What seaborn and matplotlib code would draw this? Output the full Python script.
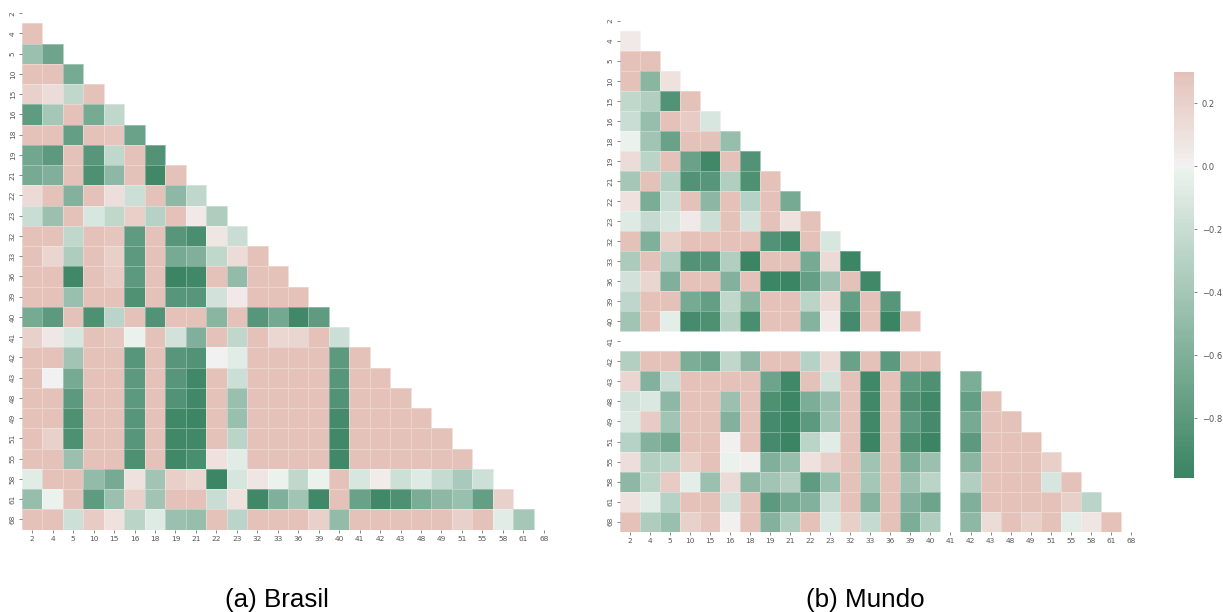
import numpy as np
import matplotlib
matplotlib.use("Agg")
import matplotlib.pyplot as plt
import seaborn as sns

labels = [2, 4, 5, 10, 15, 16, 18, 19, 21, 22, 23, 32, 33, 36, 39, 40, 41, 42, 43, 48, 49, 51, 55, 58, 61, 68]
nan = np.nan

# lower triangle, one row per label from "4" on
brasil_rows = [
    [.3],
    [-.45, -.7],
    [.3, .3, -.65],
    [.2, .13, -.25, .3],
    [-.78, -.4, .3, -.65, -.25],
    [.3, .3, -.75, .3, .28, -.72],
    [-.68, -.8, .3, -.82, -.25, .3, -.85],
    [-.65, -.6, .3, -.88, -.52, .3, -.95, .3],
    [.15, .3, -.58, .3, .12, -.18, .3, -.52, -.25],
    [-.2, -.45, .3, -.12, -.25, .22, -.3, .3, .05, -.35],
    [.3, .3, -.25, .3, .28, -.78, .3, -.82, -.9, .07, -.2],
    [.3, .18, -.35, .3, .22, -.8, .3, -.65, -.6, -.25, .13, .3],
    [.3, .3, -.95, .3, .24, -.8, .3, -.98, -.95, .3, -.5, .3, .3],
    [.3, .3, -.47, .3, .3, -.87, .3, -.82, -.82, -.15, .05, .3, .3, .3],
    [-.65, -.8, .3, -.88, -.27, .3, -.85, .3, .3, -.55, .3, -.82, -.67, -.95, -.78],
    [.2, .06, -.12, .3, .26, -.01, .3, -.15, -.6, .3, -.25, .3, .16, .17, .3, -.18],
    [.3, .3, -.42, .3, .3, -.82, .3, -.82, -.85, 0, -.07, .3, .3, .3, .3, -.8, .3],
    [.3, 0, -.65, .3, .3, -.8, .3, -.82, -.95, .3, -.18, .3, .3, .3, .3, -.82, .3, .3],
    [.3, .3, -.8, .3, .3, -.8, .3, -.85, -.95, .3, -.47, .3, .3, .3, .3, -.85, .3, .3, .3],
    [.3, .3, -.88, .3, .3, -.82, .3, -.95, -.97, .3, -.47, .3, .3, .3, .3, -.93, .3, .3, .3, .3],
    [.3, .2, -.88, .3, .3, -.83, .3, -.95, -.95, .3, -.28, .3, .3, .3, .3, -.95, .3, .3, .3, .3, .3],
    [.3, .3, -.45, .3, .3, -.88, .3, -.95, -.9, .1, -.07, .3, .3, .3, .3, -.95, .3, .3, .3, .3, .3, .3],
    [-.07, .3, .3, -.5, -.65, .1, -.42, .22, .16, -.97, -.13, .07, -.01, -.25, -.01, .3, -.12, .04, -.17, -.08, -.22, -.38, -.17],
    [-.48, -.01, .3, -.78, -.45, .2, -.42, .3, .3, -.2, .1, -.95, -.6, -.42, -.95, .3, -.72, -.95, -.88, -.63, -.52, -.47, -.75, .2],
    [.3, .3, -.17, .24, .1, -.28, -.08, -.45, -.48, .3, -.27, .3, .3, .3, .2, -.5, .3, .3, .3, .3, .3, .2, .3, -.07, -.4],
]

mundo_rows = [
    [.05],
    [.3, .3],
    [.3, -.55, .1],
    [-.25, -.33, -.85, .3],
    [-.2, -.48, .3, .24, -.12],
    [-.01, -.42, -.72, .3, .3, -.48],
    [.13, -.28, .3, -.72, -.95, .3, -.85],
    [-.4, .3, -.32, -.85, -.82, -.33, -.88, .3],
    [.1, -.63, -.2, .3, -.53, .3, -.3, .3, -.65],
    [-.08, -.22, -.12, .05, -.18, .3, -.14, .3, .1, .3],
    [.3, -.6, .22, .3, .3, .3, .3, -.85, -.95, .3, -.12],
    [-.36, .3, -.35, -.85, -.82, -.33, -.98, .3, .3, -.65, .15, -.97],
    [-.15, .17, -.6, .3, .3, -.58, .3, -.97, -.99, -.75, -.45, .3, -.95],
    [-.26, .3, .3, -.65, -.75, -.25, -.55, .3, .3, -.28, .14, -.75, .3, -.82],
    [-.42, .3, -.05, -.92, -.88, -.32, -.9, .3, .3, -.57, .05, -.93, .3, -.98, .3],
    [nan] * 16,
    [-.32, .3, .3, -.62, -.7, -.25, -.52, .3, .3, -.3, .15, -.72, .3, -.8, .3, .3, nan],
    [.18, -.58, -.2, .3, .3, .3, .3, -.7, -.95, .3, -.15, .3, -.95, .3, -.78, -.88, nan, -.62],
    [-.15, -.1, -.52, .3, .3, -.45, .3, -.88, -.97, -.62, -.45, .3, -.95, .3, -.87, -.95, nan, -.75, .3],
    [-.1, .24, -.42, .3, .3, -.58, .3, -.93, -.99, -.8, -.42, .3, -.95, .3, -.78, -.93, nan, -.65, .3, .3],
    [-.3, -.58, -.68, .3, .3, .01, .3, -.93, -.99, -.28, -.07, .3, -.98, .3, -.88, -.99, nan, -.8, .3, .3, .3],
    [.12, -.32, -.28, .22, .3, -.01, .02, -.6, -.48, .1, .2, .3, -.43, .3, -.62, -.45, nan, -.55, .3, .3, .3, .22],
    [-.52, -.28, .24, -.05, -.45, .15, -.52, -.42, -.32, -.78, -.47, .3, -.4, .3, -.45, -.28, nan, -.33, .3, .3, .3, -.13, .3],
    [.1, -.07, -.3, .3, .3, -.14, .3, -.8, -.65, -.58, -.2, .3, -.57, .3, -.58, -.7, nan, -.6, .3, .3, .3, .3, .22, -.27],
    [.3, -.35, -.47, .2, .28, .01, .3, -.58, -.35, .3, -.1, .22, -.22, .3, -.62, -.35, nan, -.52, .13, .3, .22, .3, -.06, .07, .3],
]


def to_matrix(rows):
    m = np.full((len(labels), len(labels)), np.nan)
    for i, row in enumerate(rows):
        m[i + 1, :len(row)] = row
    return m


W, H = 1223, 612


def px_axes(fig, left, top, right, bottom):
    return fig.add_axes([left / W, 1 - bottom / H, (right - left) / W, (bottom - top) / H])


cmap = sns.diverging_palette(150, 20, as_cmap=True)
tick_color = "#555555"
grid_line = (1, 1, 1, 0.3)  # the cell borders are barely visible in the original

fig = plt.figure(figsize=(W / 100, H / 100), dpi=100)
ax1 = px_axes(fig, 22, 3, 554, 529.5)
ax2 = px_axes(fig, 619.5, 10.7, 1141, 531.7)
cax = px_axes(fig, 1174, 72, 1194, 478)

sns.heatmap(to_matrix(brasil_rows), ax=ax1, cmap=cmap, vmax=.3, vmin=-.99, center=0,
            linewidths=.5, linecolor=grid_line, cbar=False, xticklabels=labels, yticklabels=labels)
sns.heatmap(to_matrix(mundo_rows), ax=ax2, cmap=cmap, vmax=.3, vmin=-.99, center=0,
            linewidths=.5, linecolor=grid_line, cbar_ax=cax, xticklabels=labels, yticklabels=labels)

for ax in [ax1, ax2]:
    ax.tick_params(axis="x", labelsize=5.3, length=2, width=.5, colors=tick_color, labelrotation=0, pad=2.5)
    ax.tick_params(axis="y", labelsize=5.3, length=2, width=.5, colors=tick_color, labelrotation=90, pad=2.5)

cax.tick_params(labelsize=6, length=2.5, width=.5, colors=tick_color, pad=3)

fig.text(277 / W, 1 - 607 / H, "(a) Brasil", family="Liberation Sans", fontsize=18.7, ha="center", va="baseline")
fig.text(865 / W, 1 - 607 / H, "(b) Mundo", family="Liberation Sans", fontsize=18.7, ha="center", va="baseline")

fig.savefig("out.png", dpi=100)
